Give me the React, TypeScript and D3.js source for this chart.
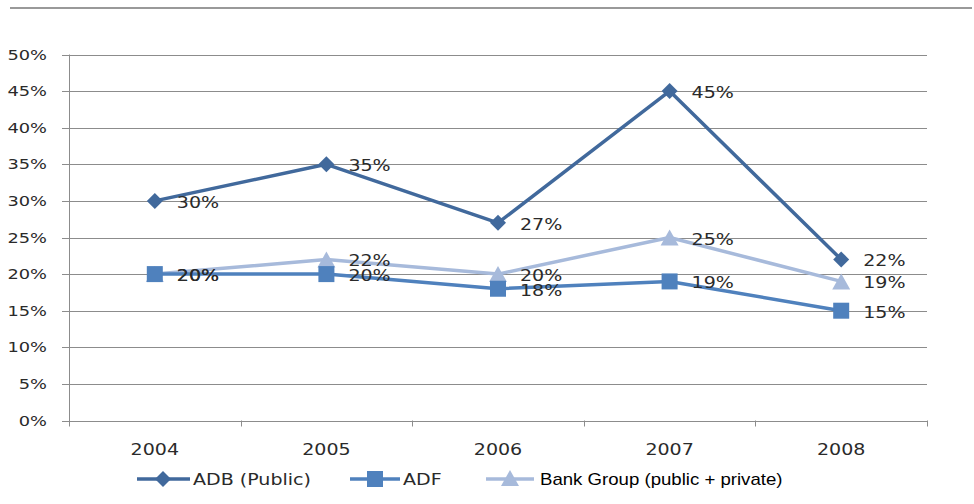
import React from "react";
import * as d3 from "d3";

const years = ["2004", "2005", "2006", "2007", "2008"];
const adbPublic = [30, 35, 27, 45, 22];
const adf = [20, 20, 18, 19, 15];
const bankGroup = [20, 22, 20, 25, 19];
const yTicks = [0, 5, 10, 15, 20, 25, 30, 35, 40, 45, 50];
const seriesNames = ["ADB (Public)", "ADF", "Bank Group (public + private)"];

const W = 974;
const H = 504;
const left = 69;
const right = 927;
const top = 54.5;
const bottom = 420.5;
const SX = 1.27;
const DV = "'DejaVu Sans', Verdana, sans-serif";
const TXT = "#2a2a2a";

const colors = ["#41699c", "#4f81bd", "#a7badb"];

function Stretch({ x, y, anchor = "start", size = 15, children, family = DV, sx = SX, fill = TXT }: any) {
  return (
    <text
      transform={`translate(${x},${y}) scale(${sx},1)`}
      textAnchor={anchor}
      fontFamily={family}
      fontSize={size}
      fill={fill}
    >
      {children}
    </text>
  );
}

function Marker({ kind, x, y, color }: any) {
  if (kind === 0) {
    const s = 8;
    return <path d={`M${x},${y - s}L${x + s},${y}L${x},${y + s}L${x - s},${y}Z`} fill={color} />;
  }
  if (kind === 1) {
    return <rect x={x - 8} y={y - 8} width={16} height={16} fill={color} />;
  }
  return <path d={`M${x},${y - 8}L${x + 9},${y + 8}L${x - 9},${y + 8}Z`} fill={color} />;
}

export default function App() {
  const x = d3.scaleBand<string>().domain(years).range([left, right]).padding(0);
  const cx = (d: string) => (x(d) as number) + x.bandwidth() / 2;
  const y = d3.scaleLinear().domain([0, 50]).range([bottom, top]);
  const line = d3
    .line<number>()
    .x((_, i) => cx(years[i]))
    .y((d) => y(d));

  const series = [adbPublic, adf, bankGroup];
  const drawOrder = [2, 1, 0];

  return (
    <svg width={W} height={H} style={{ position: "absolute", left: 0, top: 0 }}>
      <rect width={W} height={H} fill="#fff" />
      <line x1={10} x2={972} y1={8} y2={8} stroke="#999" strokeWidth={2} />
      {yTicks.map((t) => (
        <g key={t}>
          <line x1={62} x2={right} y1={Math.round(y(t)) + 0.5} y2={Math.round(y(t)) + 0.5} stroke="#8c8c8c" strokeWidth={1} />
          <Stretch x={47} y={y(t) + 5} anchor="end" size={14}>
            {t + "%"}
          </Stretch>
        </g>
      ))}
      <line x1={left + 0.5} x2={left + 0.5} y1={top} y2={bottom + 6} stroke="#8c8c8c" />
      {years.map((yr, i) => (
        <line key={"t" + i} x1={Math.round((x(yr) as number) + x.bandwidth()) + 0.5} x2={Math.round((x(yr) as number) + x.bandwidth()) + 0.5} y1={bottom} y2={bottom + 6} stroke="#8c8c8c" />
      ))}
      {years.map((yr) => (
        <Stretch key={yr} x={cx(yr)} y={bottom + 34} anchor="middle" size={15}>
          {yr}
        </Stretch>
      ))}
      {drawOrder.map((si) => (
        <g key={si}>
          <path d={line(series[si]) || ""} fill="none" stroke={colors[si]} strokeWidth={3.5} strokeLinejoin="round" />
          {series[si].map((v, i) => (
            <Marker key={i} kind={si} x={cx(years[i])} y={y(v)} color={colors[si]} />
          ))}
        </g>
      ))}
      {drawOrder.map((si) =>
        series[si].map((v, i) => (
          <Stretch key={si + "-" + i} x={cx(years[i]) + 22} y={y(v) + 7} size={15}>
            {v + "%"}
          </Stretch>
        ))
      )}
      {/* legend */}
      <g>
        <line x1={137} x2={190} y1={479} y2={479} stroke={colors[0]} strokeWidth={3.5} />
        <Marker kind={0} x={163} y={479} color={colors[0]} />
        <Stretch x={193} y={485} size={15}>{seriesNames[0]}</Stretch>
        <line x1={350} x2={400} y1={479} y2={479} stroke={colors[1]} strokeWidth={3.5} />
        <Marker kind={1} x={375} y={479} color={colors[1]} />
        <Stretch x={403} y={485} size={15}>{seriesNames[1]}</Stretch>
        <line x1={486} x2={534} y1={479} y2={479} stroke={colors[2]} strokeWidth={3.5} />
        <Marker kind={2} x={510} y={478} color={colors[2]} />
        <Stretch x={540} y={485} size={17} sx={1.095} family="'Liberation Sans', Arial, sans-serif" fill="#000">
          {seriesNames[2]}
        </Stretch>
      </g>
    </svg>
  );
}
